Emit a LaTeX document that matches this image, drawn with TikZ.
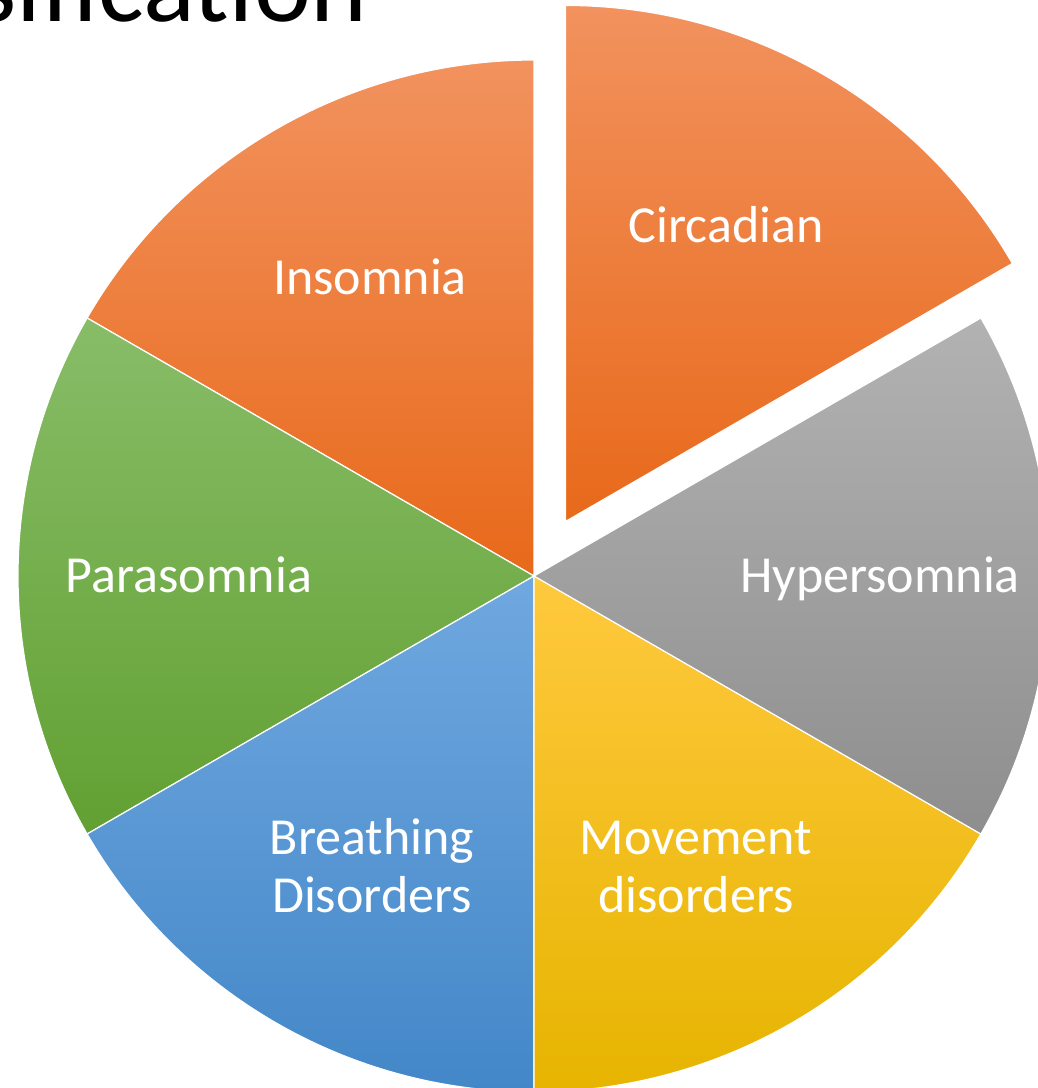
\documentclass[tikz,border=0pt]{standalone}
\usepackage{fontspec}
\setmainfont{Carlito}
\usepackage{xcolor}
\definecolor{orangeTop}{HTML}{F2925E}
\definecolor{orangeBot}{HTML}{E8691A}
\definecolor{greyTop}{HTML}{B2B2B2}
\definecolor{greyBot}{HTML}{8E8E8E}
\definecolor{goldTop}{HTML}{FFC93E}
\definecolor{goldBot}{HTML}{E6B400}
\definecolor{blueTop}{HTML}{70A8E0}
\definecolor{blueBot}{HTML}{4387C8}
\definecolor{greenTop}{HTML}{88BD68}
\definecolor{greenBot}{HTML}{62A032}

\begin{document}
\begin{tikzpicture}[x=1pt, y=1pt,
	slice/.style={draw=white, line width=1.2pt},
	slicetext/.style={text=white, font=\fontsize{52}{58}\selectfont, align=center, anchor=base, inner sep=0pt}]
	\useasboundingbox (-534,-512) rectangle (504,576);
	% pie slices, 60 degrees each
	\path[slice, top color=orangeTop, bottom color=orangeBot] (0,0) -- (90:516) arc[start angle=90, end angle=150, radius=516] -- cycle;
	\path[slice, top color=greenTop, bottom color=greenBot] (0,0) -- (150:516) arc[start angle=150, end angle=210, radius=516] -- cycle;
	\path[slice, top color=blueTop, bottom color=blueBot] (0,0) -- (210:516) arc[start angle=210, end angle=270, radius=516] -- cycle;
	\path[slice, top color=goldTop, bottom color=goldBot] (0,0) -- (270:516) arc[start angle=270, end angle=330, radius=516] -- cycle;
	\path[slice, top color=greyTop, bottom color=greyBot] (0,0) -- (-30:516) arc[start angle=-30, end angle=30, radius=516] -- cycle;
	% pulled out slice
	\begin{scope}[shift={(60:63)}]
		\path[slice, top color=orangeTop, bottom color=orangeBot] (0,0) -- (30:516) arc[start angle=30, end angle=90, radius=516] -- cycle;
	\end{scope}
	% labels
	\node[slicetext] (insomnia) at (-164,281) {Insomnia};
	\node[slicetext] (circadian) at (192,333) {Circadian};
	\node[slicetext] (parasomnia) at (-345,-16) {Parasomnia};
	\node[slicetext] (hypersomnia) at (346,-16) {Hypersomnia};
	\node[slicetext] (breathing) at (-162,-336) {Breathing\\Disorders};
	\node[slicetext] (movement) at (162,-336) {Movement\\disorders};
	% title, cut by the page
	\node[anchor=base east, inner sep=0pt, font=\fontsize{108}{120}\selectfont] (title) at (-166,554) {sification};
\end{tikzpicture}
\end{document}
